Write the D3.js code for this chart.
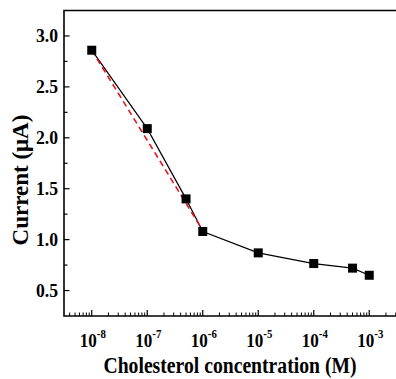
<!DOCTYPE html>
<html>
<head>
<meta charset="utf-8">
<script src="https://cdn.jsdelivr.net/npm/d3@7"></script>
<style>
  body { margin: 0; background: #fff; }
  svg { display: block; }
  text { font-family: "Liberation Serif", "Times New Roman", serif; font-weight: bold; fill: #000; }
</style>
</head>
<body>
<div id="chart"></div>
<script>
// measured data
let concentrations = [1e-8, 1e-7, 5e-7, 1e-6, 1e-5, 1e-4, 5e-4, 1e-3];
let currents = [2.86, 2.09, 1.40, 1.08, 0.87, 0.765, 0.72, 0.65];

// linear fit over the low range (red dashed)
let fitX = [1e-8, 1e-6];
let fitY = [2.86, 1.09];

let xTickExponents = [-8, -7, -6, -5, -4, -3];
let yTicks = [0.5, 1.0, 1.5, 2.0, 2.5, 3.0];

let svgWidth = 396;
let svgHeight = 379;

let margin = { top: 10.5, right: -1, bottom: 63, left: 64 };
let chartWidth = svgWidth - margin.left - margin.right;
let chartHeight = svgHeight - margin.top - margin.bottom;

let x = d3.scaleLog()
  .domain([Math.pow(10, -8.5), Math.pow(10, -2.5)])
  .range([0, chartWidth]);

let y = d3.scaleLinear()
  .domain([0.25, 3.25])
  .range([chartHeight, 0]);

let svg = d3.select("#chart")
  .append("svg")
  .attr("width", svgWidth)
  .attr("height", svgHeight);

let g = svg.append("g")
  .attr("transform", "translate(" + margin.left + "," + margin.top + ")");

// text is a bit condensed in the original
function place(sel, px, py, sx) {
  return sel.attr("transform", (d, i) => {
    let tx = typeof px === "function" ? px(d, i) : px;
    let ty = typeof py === "function" ? py(d, i) : py;
    return "translate(" + tx + "," + ty + ") scale(" + sx + ",1)";
  });
}

// minor ticks on log axis
let minorX = [];
for (let e = -9; e <= -3; e++) {
  for (let m = 2; m <= 9; m++) {
    let v = m * Math.pow(10, e);
    if (v > x.domain()[0] && v < x.domain()[1]) minorX.push(v);
  }
}

g.selectAll(".xminor")
  .data(minorX)
  .enter()
  .append("line")
    .attr("x1", d => x(d))
    .attr("x2", d => x(d))
    .attr("y1", chartHeight)
    .attr("y2", chartHeight - 3.5)
    .attr("stroke", "#000")
    .attr("stroke-width", 1);

g.selectAll(".xmajor")
  .data(xTickExponents)
  .enter()
  .append("line")
    .attr("x1", d => x(Math.pow(10, d)))
    .attr("x2", d => x(Math.pow(10, d)))
    .attr("y1", chartHeight)
    .attr("y2", chartHeight - 6)
    .attr("stroke", "#000")
    .attr("stroke-width", 1.2);

let xLabels = g.selectAll(".xlabel")
  .data(xTickExponents)
  .enter()
  .append("text")
    .attr("text-anchor", "middle")
    .style("font-size", "19px");

place(xLabels, d => x(Math.pow(10, d)) + 1, chartHeight + 31, 0.9);

xLabels.append("tspan").text("10");
xLabels.append("tspan")
  .attr("dy", -9)
  .style("font-size", "12px")
  .text(d => d);

// y ticks
let minorY = d3.range(0.25, 3.26, 0.25).filter(v => v > 0.26 && v < 3.24);

g.selectAll(".yminor")
  .data(minorY)
  .enter()
  .append("line")
    .attr("x1", 0)
    .attr("x2", d => yTicks.some(t => Math.abs(t - d) < 1e-6) ? 5.5 : 3.5)
    .attr("y1", d => y(d))
    .attr("y2", d => y(d))
    .attr("stroke", "#000")
    .attr("stroke-width", 1.2);

let yLabels = g.selectAll(".ylabel")
  .data(yTicks)
  .enter()
  .append("text")
    .attr("text-anchor", "end")
    .style("font-size", "19px")
    .text(d => d.toFixed(1));

place(yLabels, -6, d => y(d) + 6.5, 0.93);

// frame
g.append("path")
  .attr("d", "M" + (chartWidth + 2) + ",0H0V" + chartHeight + "H" + (chartWidth + 2))
  .attr("fill", "none")
  .attr("stroke", "#000")
  .attr("stroke-width", 1.6);

// data line
let line = d3.line()
  .x(d => x(d[0]))
  .y(d => y(d[1]));

let pts = concentrations.map((c, i) => [c, currents[i]]);

g.append("path")
  .datum(pts)
  .attr("d", line)
  .attr("fill", "none")
  .attr("stroke", "#000")
  .attr("stroke-width", 1.2);

g.append("path")
  .datum(fitX.map((c, i) => [c, fitY[i]]))
  .attr("d", line)
  .attr("fill", "none")
  .attr("stroke", "#e8141b")
  .attr("stroke-width", 1.6)
  .attr("stroke-dasharray", "6,4");

g.selectAll(".pt")
  .data(pts)
  .enter()
  .append("rect")
    .attr("x", d => x(d[0]) - 4.5)
    .attr("y", d => y(d[1]) - 4.5)
    .attr("width", 9)
    .attr("height", 9)
    .attr("fill", "#000");

// axis titles
let xTitle = svg.append("text")
  .attr("text-anchor", "middle")
  .style("font-size", "24px")
  .text("Cholesterol concentration (M)");
place(xTitle, 230, 373, 0.82);

svg.append("text")
  .attr("transform", "translate(28,180) rotate(-90)")
  .attr("text-anchor", "middle")
  .style("font-size", "23px")
  .text("Current (\u03bcA)");
</script>
</body>
</html>
